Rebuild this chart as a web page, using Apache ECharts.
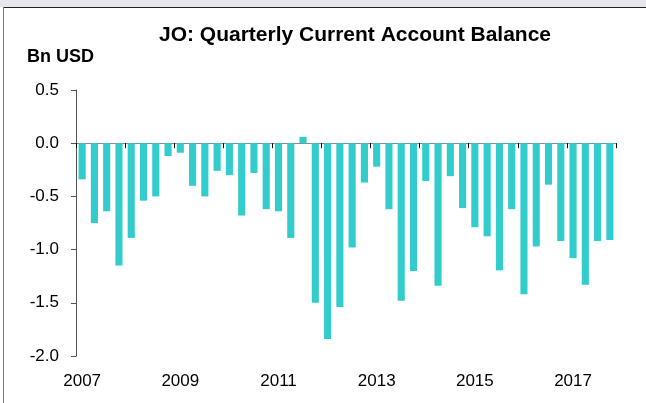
<!DOCTYPE html>
<html>
<head>
<meta charset="utf-8">
<script src="https://cdn.jsdelivr.net/npm/echarts@6/dist/echarts.min.js"></script>
<style>
html,body{margin:0;padding:0;background:#fff;}
#frame{position:absolute;left:0;top:0;width:646px;height:403px;}
#topband{position:absolute;left:0;top:0;width:646px;height:7px;background:#e6e6ec;}
#topline{position:absolute;left:3px;top:7px;width:643px;height:1px;background:#222;}
#leftline{position:absolute;left:3px;top:7px;width:1px;height:396px;background:#777;}
#chart{position:absolute;left:0;top:0;width:646px;height:403px;}
</style>
</head>
<body>
<div id="frame">
<div id="topband"></div>
<div id="topline"></div>
<div id="leftline"></div>
<div id="chart"></div>
</div>
<script>
const categories = [];
const years = [2007,2008,2009,2010,2011,2012,2013,2014,2015,2016,2017];
years.forEach(y => { for (let q = 1; q <= 4; q++) categories.push(y + 'Q' + q); });
const balance = [
  -0.34, -0.75, -0.64, -1.15,
  -0.89, -0.54, -0.50, -0.12,
  -0.09, -0.40, -0.50, -0.26,
  -0.30, -0.68, -0.28, -0.62,
  -0.64, -0.89, 0.06, -1.50,
  -1.84, -1.54, -0.98, -0.37,
  -0.22, -0.62, -1.48, -1.20,
  -0.355, -1.34, -0.31, -0.61,
  -0.79, -0.875, -1.195, -0.62,
  -1.42, -0.97, -0.39, -0.92,
  -1.08, -1.33, -0.92, -0.91
];
const yTicks = { min: -2.0, max: 0.5, interval: 0.5 };

const chart = echarts.init(document.getElementById('chart'), null, { renderer: 'canvas' });
const font = 'Liberation Sans, Arial, sans-serif';
chart.setOption({
  animation: false,
  backgroundColor: 'transparent',
  title: {
    text: 'JO: Quarterly Current Account Balance',
    left: 350, top: 20, textAlign: 'center',
    textStyle: { fontFamily: font, fontSize: 21, fontWeight: 'bold', color: '#000' }
  },
  graphic: [{
    type: 'text', left: 27, top: 48,
    style: { text: 'Bn USD', fontFamily: font, fontSize: 18, fontWeight: 'bold', fill: '#000' }
  }],
  grid: { left: 76, right: 30, top: 90, bottom: 47, containLabel: false },
  xAxis: [{
    type: 'category', data: categories, boundaryGap: true,
    axisLine: { onZero: true, lineStyle: { color: '#888', width: 1 } },
    axisTick: { show: true, interval: 3, length: 5, lineStyle: { color: '#000' } },
    axisLabel: { show: false }
  }, {
    type: 'category', data: categories, boundaryGap: true, position: 'bottom',
    axisLine: { show: false, onZero: false },
    axisTick: { show: false },
    axisLabel: {
      interval: 7, margin: 17, fontFamily: font, fontSize: 17, color: '#000',
      formatter: v => v.slice(0, 4)
    }
  }],
  yAxis: {
    type: 'value', min: yTicks.min, max: yTicks.max, interval: yTicks.interval,
    splitLine: { show: false },
    axisLine: { show: true, lineStyle: { color: '#555' } },
    axisTick: { show: true, length: 5, lineStyle: { color: '#555' } },
    axisLabel: { margin: 17, fontFamily: font, fontSize: 17, color: '#000', formatter: v => v.toFixed(1) }
  },
  series: [{
    type: 'bar', data: balance, xAxisIndex: 0,
    barCategoryGap: '42%',
    itemStyle: { color: '#33cccc' }
  }]
});
</script>
</body>
</html>
